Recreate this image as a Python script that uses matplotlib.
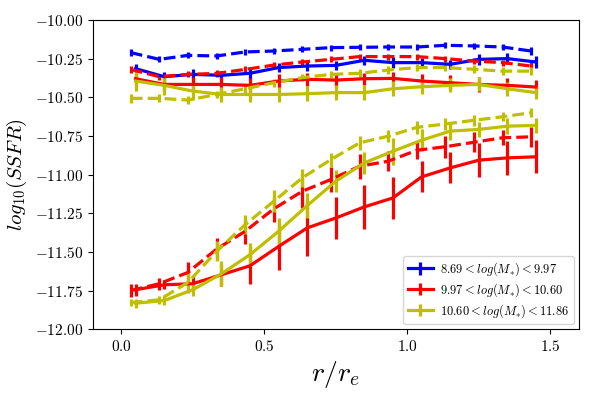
import numpy as np
import matplotlib
matplotlib.use("Agg")
import matplotlib.pyplot as plt
from matplotlib.ticker import FuncFormatter, MultipleLocator

plt.rcParams['font.family'] = 'serif'
plt.rcParams['font.serif'] = ['cmr10', 'DejaVu Serif']
plt.rcParams['mathtext.fontset'] = 'cm'
plt.rcParams['axes.unicode_minus'] = False

# radial bins (solid = bin centres, dashed = slightly offset)
r_solid = [0.05, 0.15, 0.25, 0.35, 0.45, 0.55, 0.65, 0.75, 0.85, 0.95, 1.05, 1.15, 1.25, 1.35, 1.45]
r_dashed = [0.033, 0.133, 0.233, 0.333, 0.433, 0.533, 0.633, 0.733, 0.833, 0.933, 1.033, 1.133, 1.233, 1.333, 1.433]

# upper (star-forming) profiles
blue_solid = [-10.315, -10.367, -10.352, -10.358, -10.345, -10.308, -10.298, -10.294, -10.261, -10.276, -10.276, -10.287, -10.255, -10.250, -10.272]
blue_solid_err = [0.03, 0.03, 0.035, 0.03, 0.035, 0.03, 0.03, 0.03, 0.03, 0.035, 0.03, 0.03, 0.035, 0.035, 0.04]
blue_dashed = [-10.211, -10.255, -10.229, -10.233, -10.207, -10.201, -10.190, -10.179, -10.177, -10.175, -10.175, -10.164, -10.168, -10.175, -10.201]
blue_dashed_err = [0.02, 0.02, 0.02, 0.02, 0.02, 0.02, 0.02, 0.02, 0.02, 0.02, 0.02, 0.02, 0.02, 0.02, 0.025]
red_solid = [-10.380, -10.417, -10.417, -10.417, -10.423, -10.395, -10.384, -10.389, -10.380, -10.378, -10.395, -10.406, -10.417, -10.423, -10.434]
red_solid_err = [0.04, 0.04, 0.045, 0.045, 0.045, 0.045, 0.04, 0.045, 0.04, 0.04, 0.045, 0.05, 0.05, 0.045, 0.045]
red_dashed = [-10.320, -10.367, -10.352, -10.346, -10.320, -10.292, -10.272, -10.255, -10.237, -10.237, -10.237, -10.250, -10.266, -10.276, -10.298]
red_dashed_err = [0.025, 0.02, 0.02, 0.02, 0.02, 0.02, 0.02, 0.02, 0.02, 0.02, 0.02, 0.02, 0.02, 0.02, 0.025]
yel_solid = [-10.395, -10.423, -10.460, -10.482, -10.482, -10.482, -10.477, -10.470, -10.470, -10.445, -10.432, -10.423, -10.417, -10.445, -10.470]
yel_solid_err = [0.065, 0.06, 0.055, 0.05, 0.05, 0.05, 0.05, 0.05, 0.05, 0.05, 0.05, 0.045, 0.045, 0.045, 0.04]
yel_dashed = [-10.507, -10.507, -10.518, -10.482, -10.445, -10.406, -10.373, -10.352, -10.345, -10.324, -10.308, -10.308, -10.319, -10.331, -10.331]
yel_dashed_err = [0.03, 0.025, 0.025, 0.025, 0.025, 0.025, 0.025, 0.025, 0.025, 0.025, 0.025, 0.025, 0.025, 0.025, 0.027]

# lower (quenched) profiles
red_solid_q = [-11.745, -11.713, -11.706, -11.648, -11.590, -11.465, -11.345, -11.281, -11.209, -11.151, -11.015, -10.957, -10.907, -10.892, -10.885]
red_solid_q_err = [0.04, 0.03, 0.05, 0.07, 0.12, 0.15, 0.18, 0.135, 0.14, 0.136, 0.10, 0.10, 0.108, 0.108, 0.108]
red_dashed_q = [-11.750, -11.706, -11.633, -11.482, -11.367, -11.222, -11.108, -11.032, -10.946, -10.914, -10.843, -10.820, -10.791, -10.762, -10.756]
red_dashed_q_err = [0.04, 0.04, 0.07, 0.07, 0.08, 0.086, 0.11, 0.08, 0.08, 0.065, 0.055, 0.07, 0.065, 0.05, 0.065]
yel_solid_q = [-11.832, -11.815, -11.745, -11.642, -11.518, -11.367, -11.201, -11.043, -10.924, -10.849, -10.778, -10.719, -10.708, -10.687, -10.682]
yel_solid_q_err = [0.03, 0.03, 0.04, 0.08, 0.075, 0.086, 0.08, 0.07, 0.07, 0.086, 0.07, 0.06, 0.05, 0.05, 0.05]
yel_dashed_q = [-11.828, -11.810, -11.698, -11.497, -11.324, -11.173, -11.021, -10.903, -10.795, -10.752, -10.695, -10.673, -10.649, -10.626, -10.600]
yel_dashed_q_err = [0.025, 0.025, 0.07, 0.065, 0.06, 0.07, 0.06, 0.045, 0.045, 0.04, 0.04, 0.04, 0.035, 0.03, 0.03]

labels = [r'$8.69 < log(M_{*}) < 9.97$', r'$9.97 < log(M_{*}) < 10.60$', r'$10.60 < log(M_{*}) < 11.86$']

fig = plt.figure(figsize=(5.98, 3.99), dpi=100)
ax = fig.add_axes([0.155, 0.175, 0.813, 0.775])

kw = dict(lw=2.3, elinewidth=2.3, capsize=0)
ax.errorbar(r_solid, blue_solid, yerr=blue_solid_err, color='b', ls='-', label=labels[0], **kw)
ax.errorbar(r_dashed, blue_dashed, yerr=blue_dashed_err, color='b', ls='--', **kw)
ax.errorbar(r_solid, red_solid, yerr=red_solid_err, color='r', ls='-', label=labels[1], **kw)
ax.errorbar(r_dashed, red_dashed, yerr=red_dashed_err, color='r', ls='--', **kw)
ax.errorbar(r_solid, yel_solid, yerr=yel_solid_err, color='y', ls='-', label=labels[2], **kw)
ax.errorbar(r_dashed, yel_dashed, yerr=yel_dashed_err, color='y', ls='--', **kw)

ax.errorbar(r_solid, red_solid_q, yerr=red_solid_q_err, color='r', ls='-', **kw)
ax.errorbar(r_dashed, red_dashed_q, yerr=red_dashed_q_err, color='r', ls='--', **kw)
ax.errorbar(r_solid, yel_solid_q, yerr=yel_solid_q_err, color='y', ls='-', **kw)
ax.errorbar(r_dashed, yel_dashed_q, yerr=yel_dashed_q_err, color='y', ls='--', **kw)

ax.set_xlim(-0.1, 1.6)
ax.set_ylim(-12.0, -10.0)
ax.xaxis.set_major_locator(MultipleLocator(0.5))
ax.yaxis.set_major_locator(MultipleLocator(0.25))
ax.xaxis.set_major_formatter(FuncFormatter(lambda v, p: r'$%.1f$' % v))
ax.yaxis.set_major_formatter(FuncFormatter(lambda v, p: r'$%.2f$' % v))
ax.tick_params(labelsize=11)

ax.set_xlabel(r'$r/r_e$', fontsize=20)
ax.set_ylabel(r'$log_{10}(SSFR)$', fontsize=15)

ax.legend(loc='lower right', fontsize=9, labelspacing=0.25, borderpad=0.35,
          handletextpad=0.6, borderaxespad=0.4)

fig.savefig('out.png', dpi=100)
